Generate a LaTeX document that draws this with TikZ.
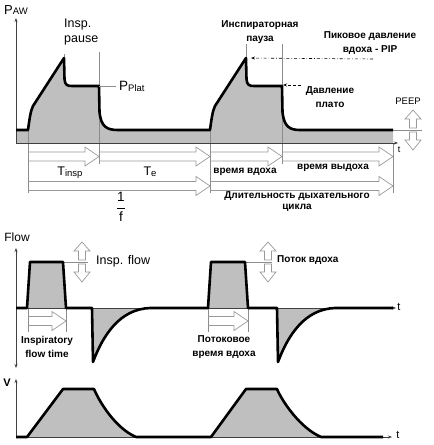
\documentclass[tikz,border=0pt]{standalone}
\usepackage{fontspec}
\setmainfont{Liberation Sans}
\usetikzlibrary{calc,arrows.meta}

\tikzset{
  wave/.style={line width=2.6pt, line join=round},
  greyarea/.style={fill=gray!50},
  guide/.style={draw=black!45, line width=0.6pt},
  hollow/.style={draw=black!40, line width=0.7pt, line join=miter},
  axisline/.style={draw=black!75, line width=0.6pt},
  tip/.style={-{Stealth[length=4pt,width=3pt]}},
  eng/.style={font=\fontsize{12.5}{15}\selectfont, inner sep=0pt, align=left},
  rus/.style={font=\bfseries\fontsize{10}{14}\selectfont, inner sep=0pt, align=center},
}

% hollow time arrow between two points of the same height
\newcommand{\spanarrow}[2]{%
  \draw[hollow] let \p1=(#1), \p2=(#2) in
    (\x1,\y1+4.5pt) -- (\x2-14pt,\y1+4.5pt) -- (\x2-14pt,\y1+9.5pt) -- (\x2,\y1)
    -- (\x2-14pt,\y1-9.5pt) -- (\x2-14pt,\y1-4.5pt) -- (\x1,\y1-4.5pt);}

% hollow up and down arrows round a level
\newcommand{\updownpair}[1]{%
  \draw[hollow, shift={(#1)}] (-3.5,-2) -- (-3.5,-11) -- (-8,-11) -- (0,-20)
    -- (8,-11) -- (3.5,-11) -- (3.5,-2) -- cycle;
  \draw[hollow, shift={(#1)}] (-3.5,2) -- (-3.5,10) -- (-8,10) -- (0,20)
    -- (8,10) -- (3.5,10) -- (3.5,2) -- cycle;}

\begin{document}
\begin{tikzpicture}[x=1pt, y=-1pt]
  \useasboundingbox (0,0) rectangle (434,445);
  %%%%%%%%%%%%% pressure
  \def\pawline{(16,130) -- (28,130) .. controls (29.5,119) and (30.5,111) .. (33,106)
    -- (64,58) -- (64.5,79) .. controls (65,85) and (67,86) .. (72,86) -- (99,86)
    -- (99.5,112) .. controls (101,127) and (107,130) .. (118,130) -- (210,130)
    .. controls (211.5,119) and (212.5,111) .. (215,106) -- (246,58) -- (246.5,79)
    .. controls (247,85) and (249,86) .. (254,86) -- (282,86) -- (282.5,112)
    .. controls (284,127) and (290,130) .. (300,130) -- (393,130)}
  \fill[greyarea] \pawline -- (393,143) -- (16,143) -- cycle;
  %%%%%%%%%%%%%
  \coordinate (tA) at (28,130);
  \coordinate (tB) at (99,52);
  \coordinate (tC) at (210,130);
  \coordinate (tD) at (282,44);
  \coordinate (tE) at (393,143);
  \coordinate (row1) at (0,156.5);
  \coordinate (row2) at (0,186);
  \coordinate (rowmid) at (0,164);
  \coordinate (rowlow) at (0,193);
  \coordinate (peak1) at (64,58);
  \coordinate (peak2) at (246,58);
  \coordinate (plat1) at (99,86);
  \coordinate (plat2) at (283,85);
  \coordinate (pipend) at (373,59);
  \coordinate (platend) at (301,85);
  \coordinate (peepj) at (413,130);
  \coordinate (p0) at (16,143);
  \coordinate (ptop) at (16,18);
  \coordinate (pend) at (398,143);
  %%%%%%%%%%%%%
  \draw[guide] (tA) -- (tA |- rowlow);
  \draw[guide] (tB) -- (tB |- rowmid);
  \draw[guide] (tC) -- (tC |- rowlow);
  \draw[guide] (tD) -- (tD |- rowmid);
  \draw[guide] (tE) -- (tE |- rowlow);
  \draw[guide] (peak1) -- ++(0,-4);
  \draw[guide] (peak2) -- ++(0,-14);
  \draw[guide] (tE |- tC) -- ++(29,0);
  \draw[axisline, tip] (p0) -- (ptop);
  \draw[axisline, tip] (p0) -- (pend);
  \draw[wave] \pawline;
  %%%%%%%%%%%%%
  \spanarrow{tA |- row1}{tB |- row1}
  \spanarrow{tB |- row1}{tC |- row1}
  \spanarrow{tC |- row1}{tD |- row1}
  \spanarrow{tD |- row1}{tE |- row1}
  \spanarrow{tA |- row2}{tC |- row2}
  \spanarrow{tC |- row2}{tE |- row2}
  \updownpair{peepj}
  %%%%%%%%%%%%%
  \node[anchor=base west, inner sep=0pt] (paw) at (4,14)
    {{\fontsize{13}{13}\selectfont P}{\fontsize{9.5}{9.5}\selectfont AW}};
  \node[eng, anchor=west] (pause) at (64,32) {Insp.\\pause};
  \node[anchor=base west, inner sep=0pt] (pplat) at (119,90)
    {{\fontsize{13.5}{13}\selectfont P}\raisebox{-1.5pt}{\fontsize{9.5}{9}\selectfont Plat}};
  \node[rus] (inspause) at (260,32) {Инспираторная\\пауза};
  \node[rus] (pip) at (370,43) {Пиковое давление\\вдоха - PIP};
  \node[rus] (plateau) at (330,97) {Давление\\плато};
  \node[anchor=base, inner sep=0pt, font=\fontsize{9.5}{10}\selectfont] (peep) at (408,104) {PEEP};
  \node[inner sep=0pt, font=\fontsize{9}{9}\selectfont] (tp) at (399,150) {t};
  \node[anchor=base, inner sep=0pt] (tinsp) at (70,175)
    {{\fontsize{12.5}{12}\selectfont T}\raisebox{-1.5pt}{\fontsize{9.5}{9}\selectfont insp}};
  \node[anchor=base, inner sep=0pt] (texp) at (150,175)
    {{\fontsize{12.5}{12}\selectfont T}\raisebox{-1.5pt}{\fontsize{9.5}{9}\selectfont e}};
  \node[rus] (insptime) at (245,172) {время вдоха};
  \node[rus] (exptime) at (333,168) {время выдоха};
  \node[rus, font=\bfseries\fontsize{10}{11}\selectfont] (cycle) at (297,201.5) {Длительность дыхательного\\цикла};
  \node[inner sep=0pt, font=\fontsize{13.5}{14}\selectfont] (freq) at (121,207) {$\displaystyle\frac{\mbox{1}}{\mbox{f}}$};
  \draw[guide, shorten >=3pt] (plat1) -- (pplat.west |- plat1);
  \draw[black, line width=0.6pt, dash dot, tip, shorten >=5pt] (pipend) -- (peak2);
  \draw[black, line width=0.6pt, densely dashed, tip] (platend) -- (plat2);
  %%%%%%%%%%%%% flow
  \def\flowline{(16,308) -- (27,308) -- (30,262) -- (63,262) -- (66,308) -- (92,308)
    -- (93,362) .. controls (103,335) and (120,309) .. (150,308) -- (208,308)
    -- (211,262) -- (245,262) -- (248,308) -- (277,308) -- (278,362)
    .. controls (288,335) and (305,309) .. (335,308) -- (393,308)}
  \fill[greyarea] \flowline -- cycle;
  %%%%%%%%%%%%%
  \coordinate (fA) at (28,309);
  \coordinate (fB) at (66,309);
  \coordinate (fC) at (208,309);
  \coordinate (fD) at (248,309);
  \coordinate (frow) at (0,321);
  \coordinate (flowlow) at (0,332);
  \coordinate (top1) at (63,262);
  \coordinate (top2) at (245,262);
  \coordinate (ins1) at (82,262);
  \coordinate (ins2) at (268,262);
  \coordinate (f0) at (16,308);
  \coordinate (fbot) at (16,368);
  \coordinate (ftop) at (16,248);
  \coordinate (fend) at (396,308);
  %%%%%%%%%%%%%
  \draw[guide] (fA) -- (fA |- flowlow);
  \draw[guide] (fB) -- (fB |- flowlow);
  \draw[guide] (fC) -- (fC |- flowlow);
  \draw[guide] (fD) -- (fD |- flowlow);
  \draw[guide] (top1) -- ++(25,0);
  \draw[guide] (top2) -- ++(27,0);
  \draw[axisline, {Stealth[length=4pt,width=3pt]}-{Stealth[length=4pt,width=3pt]}] (fbot) -- (ftop);
  \draw[axisline, tip] (f0) -- (fend);
  \draw[wave] \flowline;
  \spanarrow{fA |- frow}{fB |- frow}
  \spanarrow{fC |- frow}{fD |- frow}
  \updownpair{ins1}
  \updownpair{ins2}
  %%%%%%%%%%%%%
  \node[inner sep=0pt, font=\fontsize{12}{12}\selectfont] (flow) at (17,237) {Flow};
  \node[eng, anchor=west] (inspflow) at (96,261) {Insp. flow};
  \node[rus, anchor=west] (potok) at (277,260) {Поток вдоха};
  \node[rus] (flowtime) at (47,347) {Inspiratory\\flow time};
  \node[rus] (flowtimeru) at (224,347) {Потоковое\\время вдоха};
  \node[inner sep=0pt, font=\fontsize{11}{11}\selectfont] (tf) at (399,307) {t};
  %%%%%%%%%%%%% volume
  \def\volline{(16,437) -- (27,437) -- (63,389) -- (94,389)
    .. controls (99,401) and (115,428) .. (136,437) -- (211,437) -- (246,389) -- (277,389)
    .. controls (282,401) and (300,428) .. (321,437) -- (383,437)}
  \fill[greyarea] \volline -- cycle;
  \coordinate (v0) at (16,437);
  \coordinate (vtop) at (16,379);
  \coordinate (vend) at (392,437);
  \draw[axisline, tip] (v0) -- (vtop);
  \draw[axisline, tip] (v0) -- (vend);
  \draw[wave] \volline;
  \node[inner sep=0pt, font=\bfseries\fontsize{11}{11}\selectfont] (vol) at (7,383) {V};
  \node[inner sep=0pt, font=\fontsize{11}{11}\selectfont] (tv) at (398,435) {t};
\end{tikzpicture}
\end{document}
